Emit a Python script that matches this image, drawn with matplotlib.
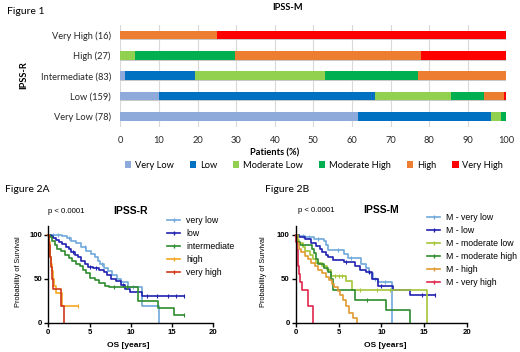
import matplotlib.pyplot as plt
from matplotlib.lines import Line2D
import numpy as np

plt.rcParams['font.family'] = ['Liberation Sans', 'DejaVu Sans']

# ---- Figure 1: IPSS-M category counts within each IPSS-R group
ipssr_groups = ["Very Low (78)", "Low (159)", "Intermediate (83)", "High (27)", "Very High (16)"]
ipssm_cats = ["Very Low", "Low", "Moderate Low", "Moderate High", "High", "Very High"]
ipssm_colors = ["#8eaadb", "#0070c0", "#92d050", "#00b050", "#ed7d31", "#ff0000"]
counts = np.array([
    [48, 27, 2, 1, 0, 0],
    [16, 89, 31, 14, 8, 1],
    [1, 15, 28, 20, 19, 0],
    [0, 0, 1, 7, 13, 6],
    [0, 0, 0, 0, 4, 12],
])

# ---- Figure 2A: KM curves by IPSS-R (time in years, survival %)
r_labels = ["very low", "low", "intermediate", "high", "very high"]
r_colors = ["#6fa8dc", "#2020b0", "#2e8b2e", "#f5a623", "#d0381a"]
r_very_low = [(0, 100), (1.7, 98), (2.3, 96), (2.8, 93), (3.4, 90), (4.0, 86), (4.6, 81), (5.2, 78),
              (5.6, 74), (6.0, 70), (6.3, 66), (6.8, 62), (7.2, 58), (7.7, 54), (8.3, 50), (8.8, 46),
              (9.6, 40), (11.4, 19), (13.4, 0)]
r_low = [(0, 100), (0.3, 98), (0.6, 96), (0.9, 94), (1.3, 91), (1.7, 89), (2.1, 86), (2.5, 83),
         (2.8, 80), (3.2, 77), (3.6, 74), (4.0, 70), (4.4, 66), (4.8, 63), (5.4, 62), (6.2, 60),
         (6.7, 57), (7.1, 54), (7.6, 50), (8.2, 47), (8.8, 43), (9.3, 38), (9.9, 35), (11.4, 30),
         (16.5, 30)]
r_intermediate = [(0, 100), (0.2, 97), (0.5, 93), (0.8, 88), (1.1, 84), (1.5, 81), (2.0, 77), (2.5, 73),
                  (2.9, 70), (3.3, 67), (3.8, 64), (4.2, 60), (4.6, 56), (5.1, 51), (5.6, 48), (6.2, 45),
                  (6.9, 42), (7.3, 40), (10.9, 24), (13.3, 16), (15.2, 8), (16.4, 8)]
r_high = [(0, 100), (0.08, 92), (0.15, 83), (0.25, 75), (0.35, 67), (0.45, 58), (0.55, 50), (0.7, 42),
          (0.9, 33), (1.6, 19), (3.6, 19)]
r_very_high = [(0, 100), (0.1, 88), (0.2, 75), (0.35, 63), (0.45, 50), (0.6, 38), (1.55, 19), (1.95, 0)]
r_censor = [[0.6, 1.2, 2.5, 4.4, 6.5, 10.3], [3.0, 5.0, 5.8, 9.0, 12.0, 13.2, 14.5, 15.5, 16.5],
            [8.0, 9.5, 16.4], [3.6], []]

# ---- Figure 2B: KM curves by IPSS-M
m_labels = ["M - very low", "M - low", "M - moderate low", "M - moderate high", "M - high", "M - very high"]
m_colors = ["#6fa8dc", "#2020b0", "#a4c639", "#2e8b2e", "#e09a30", "#e0284b"]
m_very_low = [(0, 100), (0.3, 98), (1.0, 97), (2.1, 95), (3.3, 93), (3.5, 88), (3.8, 82), (5.6, 78),
              (6.1, 73), (7.6, 66), (8.2, 62), (8.6, 56), (9.0, 50), (9.6, 46), (11.25, 0)]
m_low = [(0, 100), (0.4, 97), (1.0, 95), (1.7, 90), (2.3, 87), (2.8, 84), (3.1, 80), (3.5, 77),
         (3.8, 74), (4.3, 71), (5.6, 69), (6.9, 64), (7.5, 60), (8.2, 57), (8.9, 50), (9.6, 42),
         (11.4, 37), (13.3, 31), (16.3, 31)]
m_mod_low = [(0, 100), (0.2, 94), (0.4, 90), (0.8, 86), (1.1, 81), (1.6, 77), (2.0, 72), (2.4, 68),
             (3.0, 64), (3.6, 60), (4.1, 53), (5.9, 47), (6.6, 37), (15.3, 0)]
m_mod_high = [(0, 100), (0.1, 92), (0.5, 88), (1.9, 84), (2.1, 79), (2.3, 72), (2.6, 67), (3.3, 62),
              (3.7, 57), (4.1, 50), (4.3, 37), (6.9, 26), (10.5, 14), (13.3, 0)]
m_high = [(0, 100), (0.1, 90), (0.3, 84), (0.6, 80), (1.0, 76), (1.4, 72), (1.8, 68), (2.2, 64),
          (2.6, 60), (3.0, 56), (3.5, 52), (3.9, 48), (4.2, 44), (4.5, 40), (4.9, 36), (5.2, 31),
          (5.5, 26), (5.8, 19), (6.2, 11), (6.7, 5), (7.1, 0)]
m_very_high = [(0, 100), (0.05, 91), (0.12, 82), (0.2, 73), (0.28, 64), (0.38, 55), (0.5, 46),
               (0.65, 37), (1.45, 19), (2.0, 0)]
m_censor = [[0.8, 1.5, 2.6, 4.9, 6.5, 9.3, 10.4], [5.9, 8.6, 10.0, 14.8, 16.3],
            [4.6, 5.0, 5.4, 7.5, 9.5, 11.0], [8.3], [], []]


def km_curve(ax, curve, censor, color, label):
    t = np.array([p[0] for p in curve])
    s = np.array([p[1] for p in curve])
    ax.step(t, s, where="post", color=color, lw=1.2, label=label, clip_on=False)
    if censor:
        idx = np.searchsorted(t, censor, side="right") - 1
        ax.plot(censor, s[idx], "|", color=color, ms=2.5, mew=0.8, clip_on=False)


def style_km(ax):
    ax.set_xlim(0, 20)
    ax.set_ylim(0, 110)
    ax.spines[["top", "right"]].set_visible(False)
    for sp in ["left", "bottom"]:
        ax.spines[sp].set_linewidth(1.0)
    ax.set_xticks([0, 5, 10, 15, 20])
    ax.set_yticks([0, 50, 100])
    ax.tick_params(length=3, width=1.0, labelsize=5.6, pad=1.5)
    for lbl in ax.get_xticklabels() + ax.get_yticklabels():
        lbl.set_fontweight("bold")
    ax.set_xlabel("OS [years]", fontweight="bold", fontsize=6)
    ax.set_ylabel("Probability of Survival", fontsize=5.3)


fig = plt.figure(figsize=(5.2, 3.52), dpi=100)

# ---------------- Figure 1
ax1 = fig.add_axes([0.2317, 0.6406, 0.742, 0.2884])
y = np.arange(len(ipssr_groups))
pct = counts / counts.sum(axis=1, keepdims=True) * 100
left = np.zeros(len(ipssr_groups))
ax1.barh(y - 0.04, 100, height=0.42, color="#c8c8c8", zorder=2)
for j, cat in enumerate(ipssm_cats):
    ax1.barh(y, pct[:, j], left=left, height=0.42, color=ipssm_colors[j], label=cat, zorder=3)
    left += pct[:, j]
ax1.set_xlim(0, 100)
ax1.set_ylim(-0.5, 4.5)
ax1.set_xticks(range(0, 101, 10))
ax1.set_yticks(y, ipssr_groups)
ax1.grid(axis="x", color="#d9d9d9", lw=0.8, zorder=0)
for sp in ax1.spines.values():
    sp.set_visible(False)
ax1.tick_params(length=0, labelsize=6.7, pad=7)
for lbl in ax1.get_xticklabels() + ax1.get_yticklabels():
    lbl.set_family(["Lato", "DejaVu Sans"])
    lbl.set_color("#262626")
ax1.set_xlabel("Patients (%)", fontweight="bold", fontsize=6.7, family=["Lato", "DejaVu Sans"])
ax1.xaxis.set_label_coords((275 - 120.5) / 386, -0.215)
fig.text(24 / 520, 1 - 75 / 352, "IPSS-R", rotation=90, ha="center", va="center",
         fontweight="bold", fontsize=6.7, family=["Lato", "DejaVu Sans"])
fig.text(288 / 520, 1 - 7 / 352, "IPSS-M", ha="center", va="center",
         fontweight="bold", fontsize=6.7, family=["Lato", "DejaVu Sans"])
fig.text(7 / 520, 1 - 11 / 352, "Figure 1", ha="left", va="center", fontsize=7.5,
         family=["Lato", "DejaVu Sans"])
fig.legend(loc="center", bbox_to_anchor=(314 / 520, 1 - 165 / 352), ncol=6, frameon=False,
           handlelength=0.7, handleheight=0.7, handletextpad=0.4, columnspacing=1.7,
           prop={"family": ["Lato", "DejaVu Sans"], "size": 6.7}, borderpad=0)

# ---------------- Figure 2A
ax2 = fig.add_axes([48.3 / 520, 1 - 322.5 / 352, 165 / 520, 96.8 / 352])
for curve, cens, col, lab in zip([r_very_low, r_low, r_intermediate, r_high, r_very_high],
                                 r_censor, r_colors, r_labels):
    km_curve(ax2, curve, cens, col, lab)
style_km(ax2)
ax2.xaxis.set_label_coords((128 - 48.3) / 165, -0.2)
ax2.yaxis.set_label_coords((22 - 48.3) / 165, 0.52)
handles = [Line2D([], [], color=c, lw=1.2, marker="|", ms=2.5) for c in r_colors]
ax2.legend(handles, r_labels, loc="upper left", bbox_to_anchor=(167 / 520, 1 - 216 / 352),
           bbox_transform=fig.transFigure, frameon=False, borderpad=0, borderaxespad=0,
           handlelength=1.5, handletextpad=0.7, labelspacing=0.45, fontsize=6.3)
fig.text(5 / 520, 1 - 190 / 352, "Figure 2A", ha="left", va="center", fontsize=7.5,
         family=["Lato", "DejaVu Sans"])
fig.text(66 / 520, 1 - 211 / 352, "p < 0.0001", ha="center", va="center", fontsize=5.6)
fig.text(130 / 520, 1 - 211 / 352, "IPSS-R", ha="center", va="center", fontsize=7.5,
         fontweight="bold")

# ---------------- Figure 2B
ax3 = fig.add_axes([296 / 520, 1 - 322.5 / 352, 170.7 / 520, 96.8 / 352])
for curve, cens, col, lab in zip([m_very_low, m_low, m_mod_low, m_mod_high, m_high, m_very_high],
                                 m_censor, m_colors, m_labels):
    km_curve(ax3, curve, cens, col, lab)
style_km(ax3)
ax3.xaxis.set_label_coords((385 - 296) / 170.7, -0.2)
ax3.yaxis.set_label_coords((267 - 296) / 170.7, 0.52)
handles = [Line2D([], [], color=c, lw=1.2, marker="|", ms=2.5) for c in m_colors]
ax3.legend(handles, m_labels, loc="upper left", bbox_to_anchor=(427 / 520, 1 - 213 / 352),
           bbox_transform=fig.transFigure, frameon=False, borderpad=0, borderaxespad=0,
           handlelength=1.5, handletextpad=0.7, labelspacing=0.45, fontsize=6.3)
fig.text(265 / 520, 1 - 190 / 352, "Figure 2B", ha="left", va="center", fontsize=7.5,
         family=["Lato", "DejaVu Sans"])
fig.text(316 / 520, 1 - 210 / 352, "p < 0.0001", ha="center", va="center", fontsize=5.6)
fig.text(381 / 520, 1 - 210 / 352, "IPSS-M", ha="center", va="center", fontsize=7.5,
         fontweight="bold")

fig.savefig("out.png", dpi=100)
